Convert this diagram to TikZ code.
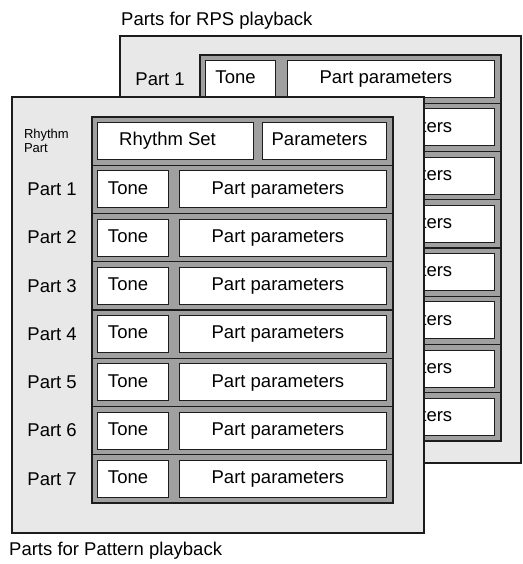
\documentclass[tikz,border=0pt]{standalone}
\usepackage{fontspec}
\setmainfont{Liberation Sans}
\usepackage{tikz}
\usetikzlibrary{positioning}
\definecolor{panelgray}{HTML}{E8E8E8}
\definecolor{bandgray}{HTML}{A0A0A0}
\definecolor{inkblack}{HTML}{1C1C1C}

\begin{document}
\begin{tikzpicture}[
    x=1pt, y=-1pt,
    % Styles
    panel/.style={
        rectangle, draw=inkblack, line width=1.5pt,
        fill=panelgray, anchor=north west,
        inner sep=0pt, outer sep=0pt
    },
    band/.style={
        rectangle, draw=inkblack, line width=1.3pt,
        fill=bandgray,
        minimum width=301pt, minimum height=48.25pt,
        inner sep=0pt, outer sep=0pt
    },
    slot/.style={
        rectangle, draw=inkblack, line width=1.1pt,
        fill=white, text=black,
        minimum height=37pt, inner sep=0pt,
        text height=13.5pt, text depth=4pt,
        font=\fontsize{18.5}{22}\selectfont,
        execute at end node={\hspace{10pt}}
    },
    partlabel/.style={
        inner sep=0pt, text=black,
        font=\fontsize{18.5}{22}\selectfont
    },
    caption/.style={
        anchor=west, inner sep=0pt, text=black,
        font=\fontsize{18.5}{22}\selectfont
    }
]
\useasboundingbox (0,0) rectangle (522,564);

% ── BACK PANEL: RPS PLAYBACK ──
\node[panel, minimum width=401pt, minimum height=427pt] (back) at (120,36) {};

\node[band, anchor=north west] (b1) at (200,55) {};
\node[band, below=0pt of b1] (b2) {};
\node[band, below=0pt of b2] (b3) {};
\node[band, below=0pt of b3] (b4) {};
\node[band, below=0pt of b4] (b5) {};
\node[band, below=0pt of b5] (b6) {};
\node[band, below=0pt of b6] (b7) {};
\node[band, below=0pt of b7] (b8) {};

\node[partlabel, left=15pt of b1] (b1lab) {Part 1};
\node[slot, minimum width=70pt, right=5pt of b1.west] (b1tone) {Tone};
\node[slot, minimum width=207pt, left=6pt of b1.east] (b1par) {Part parameters};
\node[slot, minimum width=70pt, right=5pt of b2.west] (b2tone) {Tone};
\node[slot, minimum width=207pt, left=6pt of b2.east] (b2par) {Part parameters};
\node[slot, minimum width=70pt, right=5pt of b3.west] (b3tone) {Tone};
\node[slot, minimum width=207pt, left=6pt of b3.east] (b3par) {Part parameters};
\node[slot, minimum width=70pt, right=5pt of b4.west] (b4tone) {Tone};
\node[slot, minimum width=207pt, left=6pt of b4.east] (b4par) {Part parameters};
\node[slot, minimum width=70pt, right=5pt of b5.west] (b5tone) {Tone};
\node[slot, minimum width=207pt, left=6pt of b5.east] (b5par) {Part parameters};
\node[slot, minimum width=70pt, right=5pt of b6.west] (b6tone) {Tone};
\node[slot, minimum width=207pt, left=6pt of b6.east] (b6par) {Part parameters};
\node[slot, minimum width=70pt, right=5pt of b7.west] (b7tone) {Tone};
\node[slot, minimum width=207pt, left=6pt of b7.east] (b7par) {Part parameters};
\node[slot, minimum width=70pt, right=5pt of b8.west] (b8tone) {Tone};
\node[slot, minimum width=207pt, left=6pt of b8.east] (b8par) {Part parameters};

\node[caption] (rpscap) at (121,21) {Parts for RPS playback};

% ── FRONT PANEL: PATTERN PLAYBACK ──
\node[panel, minimum width=412pt, minimum height=436pt] (front) at (12,97) {};

\node[band, anchor=north west] (f0) at (92,117) {};
\node[band, below=0pt of f0] (f1) {};
\node[band, below=0pt of f1] (f2) {};
\node[band, below=0pt of f2] (f3) {};
\node[band, below=0pt of f3] (f4) {};
\node[band, below=0pt of f4] (f5) {};
\node[band, below=0pt of f5] (f6) {};
\node[band, below=0pt of f6] (f7) {};

\node[partlabel, left=23pt of f0, align=left, font=\fontsize{13}{14}\selectfont] (rhylab) {Rhythm\\Part};
\node[slot, minimum width=156pt, right=5pt of f0.west, execute at end node={\hspace{6pt}}] (rset) {Rhythm Set};
\node[slot, minimum width=124pt, left=6pt of f0.east, execute at end node={}] (rpar) {Parameters};

\node[partlabel, left=15pt of f1] (f1lab) {Part 1};
\node[slot, minimum width=71pt, right=5pt of f1.west] (f1tone) {Tone};
\node[slot, minimum width=207pt, left=6pt of f1.east] (f1par) {Part parameters};

\node[partlabel, left=15pt of f2] (f2lab) {Part 2};
\node[slot, minimum width=71pt, right=5pt of f2.west] (f2tone) {Tone};
\node[slot, minimum width=207pt, left=6pt of f2.east] (f2par) {Part parameters};

\node[partlabel, left=15pt of f3] (f3lab) {Part 3};
\node[slot, minimum width=71pt, right=5pt of f3.west] (f3tone) {Tone};
\node[slot, minimum width=207pt, left=6pt of f3.east] (f3par) {Part parameters};

\node[partlabel, left=15pt of f4] (f4lab) {Part 4};
\node[slot, minimum width=71pt, right=5pt of f4.west] (f4tone) {Tone};
\node[slot, minimum width=207pt, left=6pt of f4.east] (f4par) {Part parameters};

\node[partlabel, left=15pt of f5] (f5lab) {Part 5};
\node[slot, minimum width=71pt, right=5pt of f5.west] (f5tone) {Tone};
\node[slot, minimum width=207pt, left=6pt of f5.east] (f5par) {Part parameters};

\node[partlabel, left=15pt of f6] (f6lab) {Part 6};
\node[slot, minimum width=71pt, right=5pt of f6.west] (f6tone) {Tone};
\node[slot, minimum width=207pt, left=6pt of f6.east] (f6par) {Part parameters};

\node[partlabel, left=15pt of f7] (f7lab) {Part 7};
\node[slot, minimum width=71pt, right=5pt of f7.west] (f7tone) {Tone};
\node[slot, minimum width=207pt, left=6pt of f7.east] (f7par) {Part parameters};

\node[caption] (patcap) at (9,551) {Parts for Pattern playback};

\end{tikzpicture}
\end{document}
